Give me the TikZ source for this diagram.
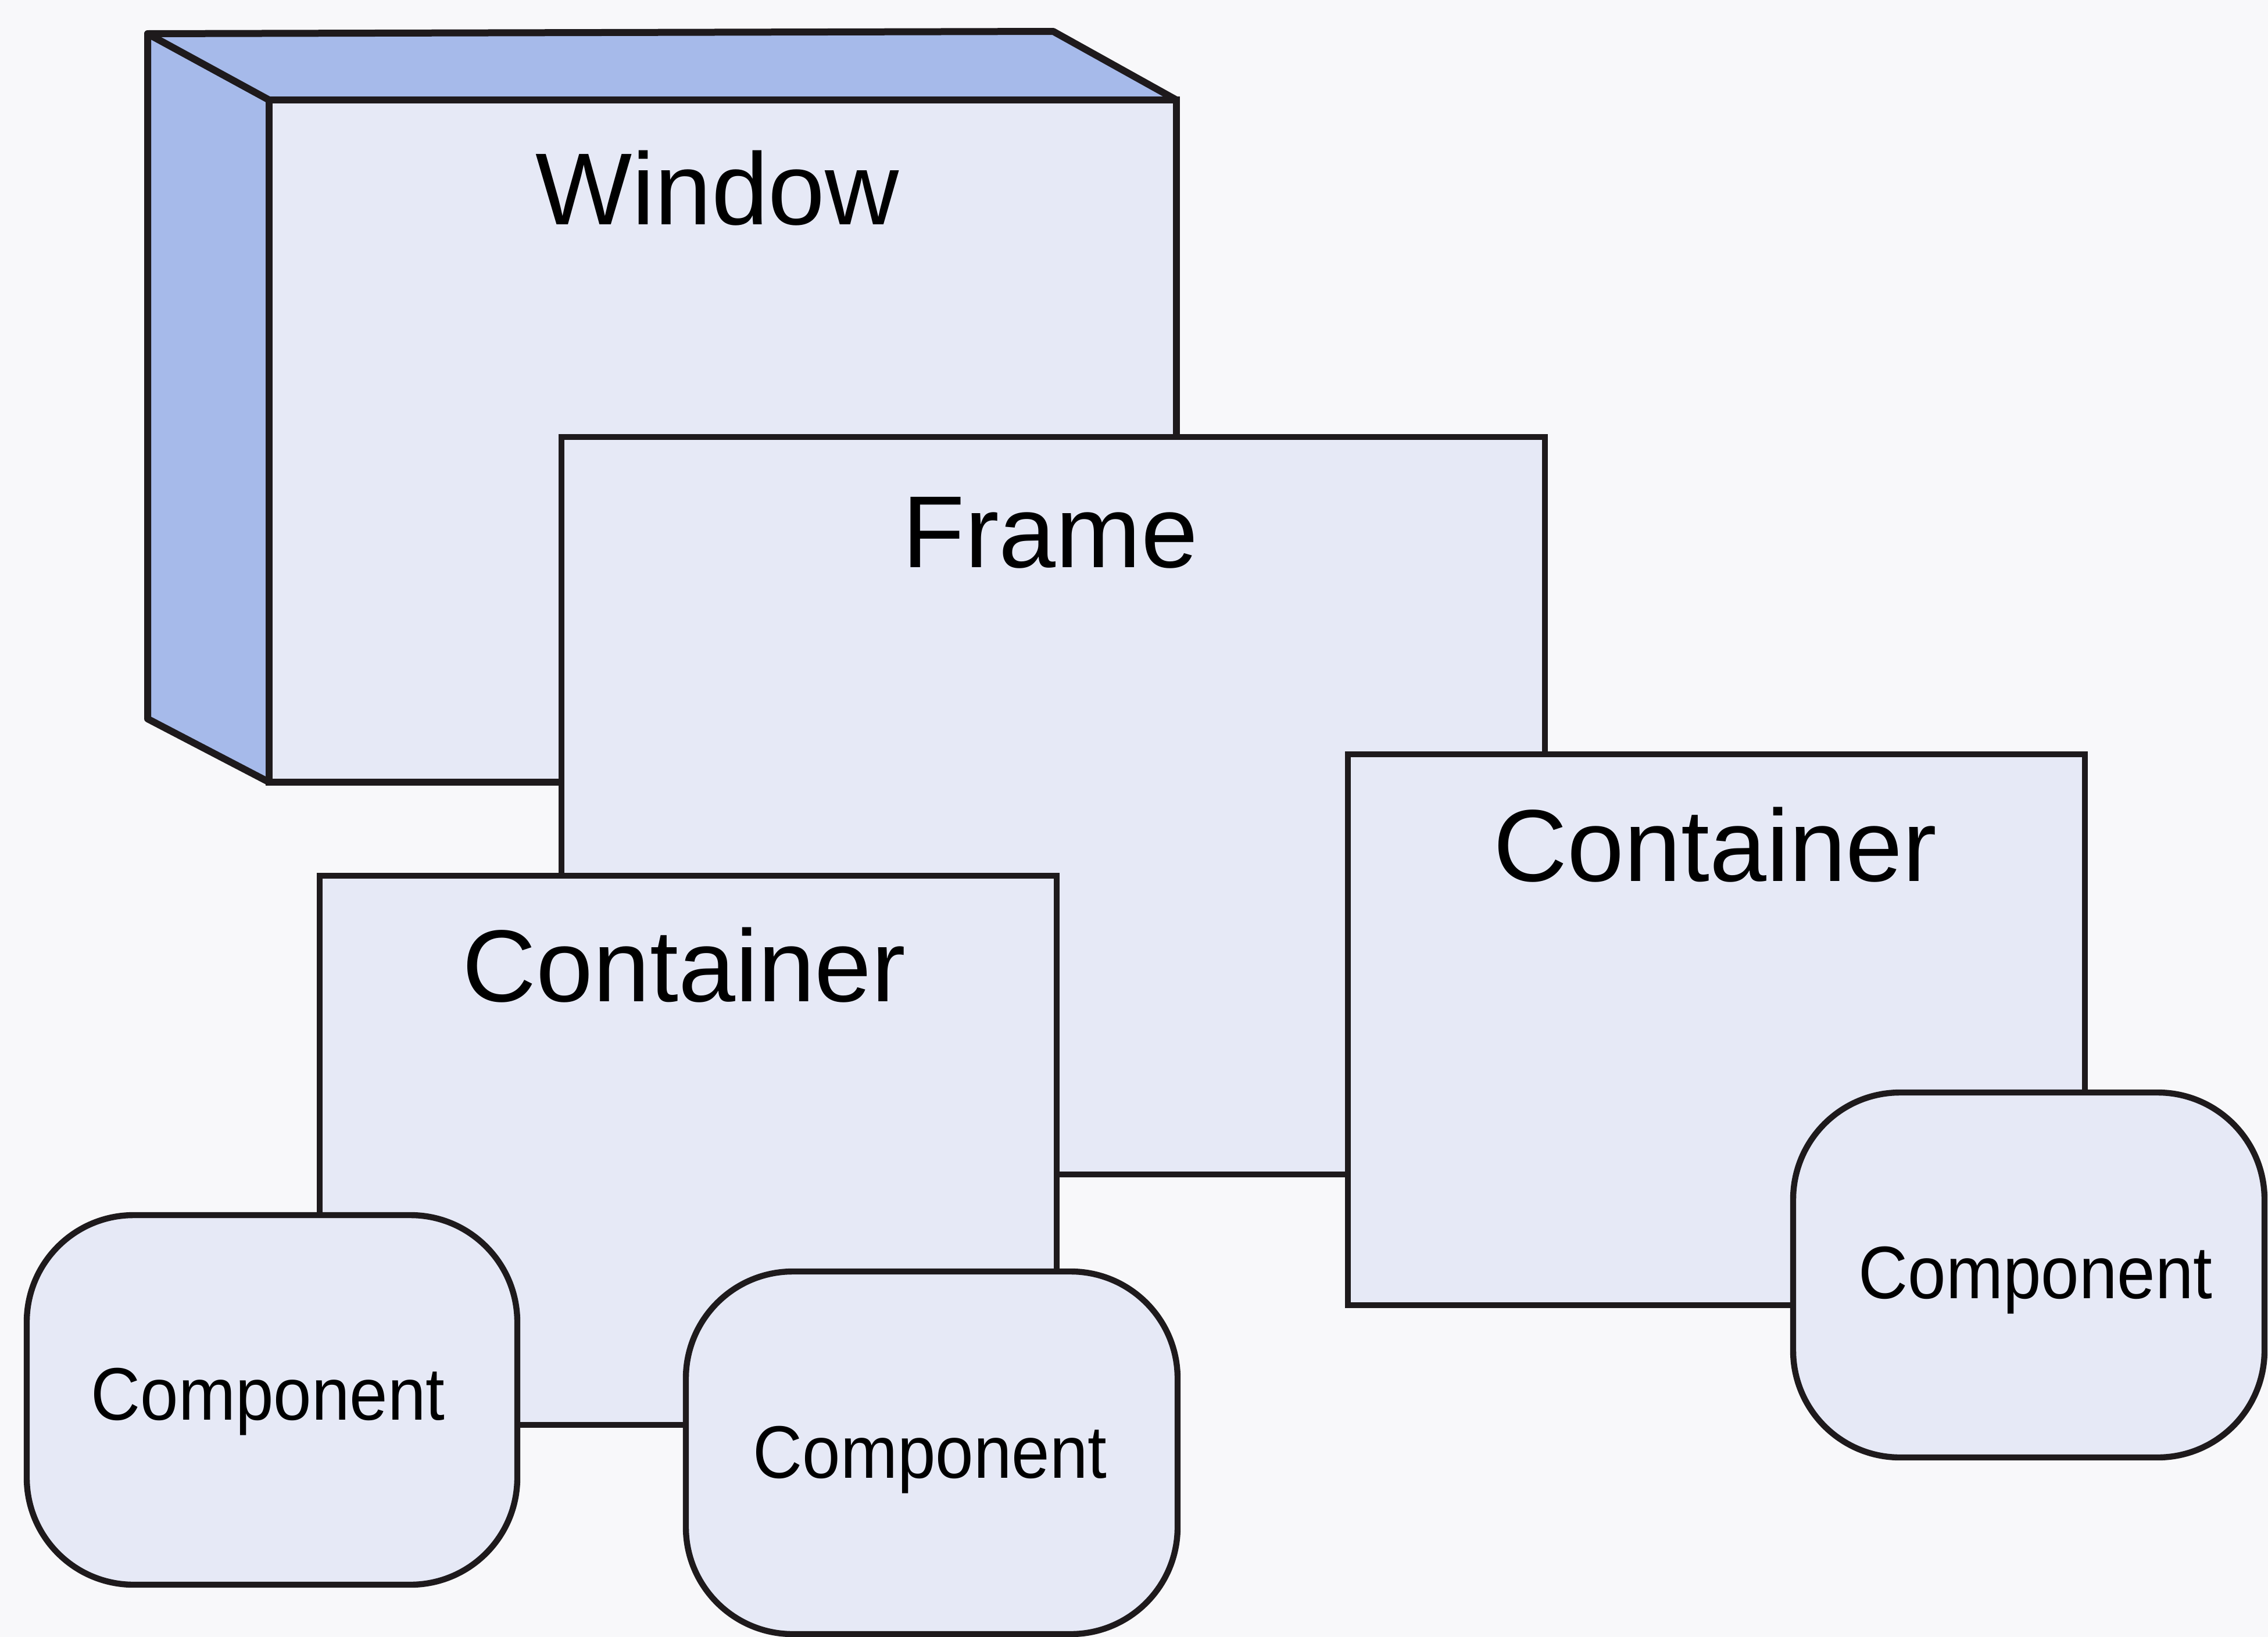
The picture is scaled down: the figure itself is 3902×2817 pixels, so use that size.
\documentclass[tikz,border=0pt]{standalone}
\usepackage{fontspec}
\setmainfont{Liberation Sans}
\usetikzlibrary{fit}
\definecolor{paper}{RGB}{248,248,250}
\definecolor{facefill}{RGB}{230,233,246}
\definecolor{sidefill}{RGB}{166,186,234}
\definecolor{edge}{RGB}{30,26,28}
\tikzset{
  box/.style={draw=edge, line width=2.6pt, fill=facefill, inner sep=0pt, rectangle},
  compbox/.style={box, rounded corners=46pt},
  side/.style={draw=edge, line width=3pt, fill=sidefill, line join=round},
  biglabel/.style={anchor=base, inner sep=0pt, font=\fontsize{44}{50}\selectfont},
  smalllabel/.style={anchor=base, inner sep=0pt, xscale=0.92, font=\fontsize{32}{38}\selectfont}
}
\begin{document}
\begin{tikzpicture}[x=0.25pt, y=-0.25pt]
  % page area
  \fill[paper] (0,0) rectangle (3902,2817);
  \useasboundingbox (0,0) rectangle (3902,2817);

  % Window: a 3-D box with a blue side and top
  \coordinate (wbtl) at (254,58);
  \coordinate (wbtr) at (1812,54);
  \coordinate (wbbl) at (254,1237);
  \coordinate (wftl) at (463,172);
  \coordinate (wftr) at (2024,172);
  \coordinate (wfbl) at (463,1346);
  \draw[side] (wbtl) -- (wftl) -- (wfbl) -- (wbbl) -- cycle;
  \draw[side] (wbtl) -- (wbtr) -- (wftr) -- (wftl) -- cycle;
  \node[box, line width=3pt, fit={(wftl) (2024,1346)}] (window) {};
  \node[biglabel] (windowlbl) at (1234,386) {Window};

  % Frame
  \node[box, fit={(966,752) (2658,2021)}] (frame) {};
  \node[biglabel] (framelbl) at (1807,976) {Frame};

  % Containers
  \node[box, fit={(2319,1298) (3587,2246)}] (contR) {};
  \node[biglabel] (contRlbl) at (2951,1516) {Container};
  \node[box, fit={(550,1507) (1818,2452)}] (contL) {};
  \node[biglabel] (contLlbl) at (1177,1723) {Container};

  % Components
  \node[compbox, fit={(46,2091) (890,2727)}] (comp1) {};
  \node[smalllabel] (comp1lbl) at (461,2443) {Component};
  \node[compbox, fit={(1180,2188) (2026,2812)}] (comp2) {};
  \node[smalllabel] (comp2lbl) at (1600,2543) {Component};
  \node[compbox, fit={(3085,1880) (3896,2508)}] (comp3) {};
  \node[smalllabel] (comp3lbl) at (3502,2234) {Component};
\end{tikzpicture}
\end{document}
